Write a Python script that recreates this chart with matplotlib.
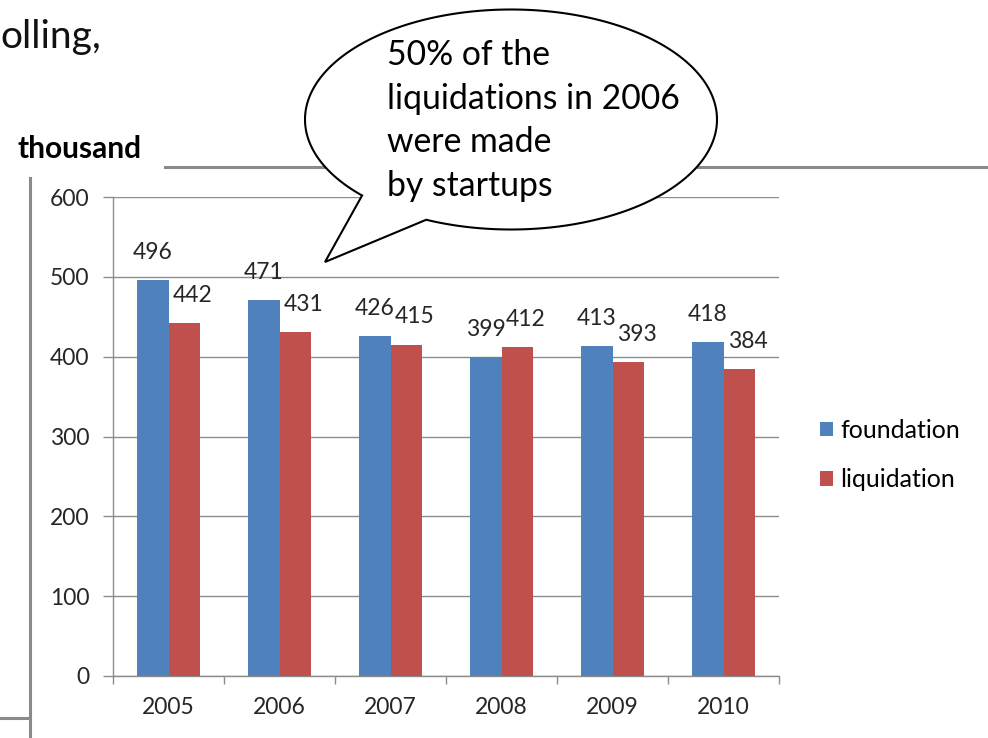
import numpy as np
import matplotlib.pyplot as plt
from matplotlib.patches import PathPatch
from matplotlib.path import Path
from matplotlib.lines import Line2D

years = ['2005', '2006', '2007', '2008', '2009', '2010']
foundation = [496, 471, 426, 399, 413, 418]
liquidation = [442, 431, 415, 412, 393, 384]
series_names = ['foundation', 'liquidation']
callout_lines = ['50% of the', 'liquidations in 2006', 'were made', 'by startups']

BLUE = '#4F81BD'
RED = '#C0504D'
GRID = '#8C8C8C'
W, H = 988, 738

plt.rcParams['font.family'] = ['Lato', 'DejaVu Sans']


def fx(px):
    return px / W


def fy(py):
    return 1 - py / H


fig = plt.figure(figsize=(W / 100, H / 100), dpi=100)
ax = fig.add_axes([fx(113), fy(676), fx(779) - fx(113), fy(197) - fy(676)])

x = np.arange(len(years))
width = 0.285
ax.bar(x - width / 2, foundation, width, color=BLUE, label=series_names[0], zorder=3)
ax.bar(x + width / 2, liquidation, width, color=RED, label=series_names[1], zorder=3)

for i, v in enumerate(foundation):
    ax.annotate(str(v), (x[i] - width / 2, v), xytext=(0, 20), textcoords='offset points',
                ha='center', va='center', fontsize=16.5, color='#262626')
for i, v in enumerate(liquidation):
    ax.annotate(str(v), (x[i] + width / 2, v), xytext=(6, 20), textcoords='offset points',
                ha='center', va='center', fontsize=16.5, color='#262626')

ax.set_xlim(-0.5, len(years) - 0.5)
ax.set_ylim(0, 600)
ax.set_yticks(range(0, 601, 100))
ax.set_xticks(x)
ax.set_xticklabels(years)
ax.set_xticks(np.arange(-0.5, len(years)), minor=True)
ax.tick_params(axis='x', which='major', length=0, pad=15, labelsize=16.5, labelcolor='#262626')
ax.tick_params(axis='x', which='minor', length=6, width=1, color=GRID, direction='out')
ax.tick_params(axis='y', length=7, width=1, color=GRID, pad=10, labelsize=16.5, labelcolor='#262626')
ax.grid(axis='y', color=GRID, linewidth=1, zorder=0)
for s in ['top', 'right']:
    ax.spines[s].set_visible(False)
for s in ['left', 'bottom']:
    ax.spines[s].set_color(GRID)
    ax.spines[s].set_linewidth(1)

ax.legend(loc='upper left', bbox_to_anchor=(fx(820), fy(419)), bbox_transform=fig.transFigure,
          frameon=False, fontsize=18, handlelength=0.52, handleheight=0.52, handletextpad=0.3,
          labelspacing=1.05, borderpad=0, borderaxespad=0)

# page decorations around the chart
fig.add_artist(Line2D([fx(165), fx(988)], [fy(167), fy(167)], color='#8A8A8A', lw=2.2, zorder=1))
fig.add_artist(Line2D([fx(30), fx(30)], [fy(178), fy(738)], color='#8A8A8A', lw=2.2, zorder=1))
fig.add_artist(Line2D([fx(0), fx(30)], [fy(718), fy(718)], color='#8A8A8A', lw=2.2, zorder=1))
fig.text(fx(0), fy(48), 'olling,', fontsize=28, ha='left', va='baseline', color='#111111')
fig.text(fx(18), fy(158), 'thousand', fontsize=21.5, fontweight='bold', ha='left', va='baseline')

# speech bubble
cx, cy, a, b = 511, 738 - 119.5, 206, 110
t0 = np.deg2rad(245.7)
t1 = np.deg2rad(223.7 + 360)
th = np.linspace(t0, t1, 300)
pts = np.column_stack([cx + a * np.cos(th), cy + b * np.sin(th)])
pts = np.vstack([pts, [[325, 738 - 262]], pts[:1]])
pts = pts / [W, H]
codes = [Path.MOVETO] + [Path.LINETO] * (len(pts) - 2) + [Path.CLOSEPOLY]
bubble = PathPatch(Path(pts, codes), facecolor='white', edgecolor='black', lw=1.5,
                   transform=fig.transFigure, zorder=5)
fig.add_artist(bubble)
for j, line in enumerate(callout_lines):
    fig.text(fx(387), fy(65 + 43.7 * j), line, fontsize=24.3, ha='left', va='baseline',
             color='black', zorder=6)

fig.savefig('out.png', dpi=100)
